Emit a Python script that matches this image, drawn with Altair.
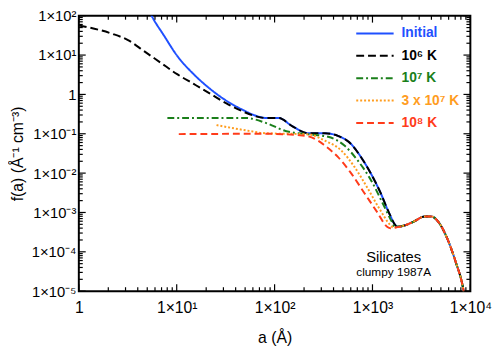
import altair as alt
import pandas as pd

# ---------------- data ----------------
SERIES = ["Initial", "10⁶ K", "10⁷ K", "3 x 10⁷ K", "10⁸ K"]
COLORS = ["#1f50ff", "#000000", "#1a7f1a", "#ff9d1f", "#ff3b1a"]
DASHES = [[1, 0], [8, 4], [7, 3, 2, 3], [2, 2], [7, 4]]

A_INITIAL = [5.17, 5.54, 7.43, 10.1, 14.9, 21.9, 32.2, 47.4, 64.4, 81.2,
             110, 151, 221, 326, 443, 604, 761, 959, 1208, 1465,
             1711, 1775, 2074, 2612, 3428, 3990, 4842, 5874, 7114, 8316, 8810]
F_INITIAL = [141, 100, 31.0, 9.6, 3.27, 1.39, 0.690, 0.404, 0.287, 0.252,
             0.252, 0.157, 0.103, 0.103, 0.0887, 0.055, 0.0258, 0.00995, 0.00318, 0.00102,
             4.76e-4, 4.33e-4, 4.6e-4, 5.8e-4, 7.9e-4, 7.9e-4, 5.25e-4, 2.03e-4, 5.37e-5, 1.42e-5, 6.6e-6]

A_1E6 = [1, 2.16, 3.18, 4.68, 6.87, 10.1, 14.9, 21.9, 32.2, 47.4, 64.4, 81.2,
         110, 151, 221, 326, 443, 604, 761, 959, 1208, 1465,
         1711, 1775, 2074, 2612, 3428, 3990, 4842, 5874, 7114, 8316, 8810]
F_1E6 = [56.5, 35.2, 24.0, 12.4, 6.37, 3.27, 1.85, 1.05, 0.592, 0.369, 0.277, 0.252,
         0.252, 0.157, 0.103, 0.103, 0.0887, 0.055, 0.0258, 0.00995, 0.00318, 0.00102,
         4.76e-4, 4.33e-4, 4.6e-4, 5.8e-4, 7.9e-4, 7.9e-4, 5.25e-4, 2.03e-4, 5.37e-5, 1.42e-5, 6.6e-6]

A_1E7 = [8.03, 51.1, 81.2, 129, 221, 352, 517, 703, 959, 1306, 1581, 1683,
         2074, 2612, 3428, 3990, 4842, 5874, 7114, 8316, 8810]
F_1E7 = [0.252, 0.252, 0.189, 0.118, 0.097, 0.0838, 0.0501, 0.0213, 0.00683, 0.00149, 5.75e-4, 4.38e-4,
         4.6e-4, 5.8e-4, 7.9e-4, 7.9e-4, 5.25e-4, 2.03e-4, 5.37e-5, 1.42e-5, 6.6e-6]

A_3E7 = [25.5, 51.1, 81.2, 221, 326, 479, 652, 887, 1208, 1524, 1644,
         2074, 2612, 3428, 3990, 4842, 5874, 7114, 8316, 8810]
F_3E7 = [0.166, 0.122, 0.103, 0.097, 0.0667, 0.0378, 0.0146, 0.00423, 0.00112, 4.76e-4, 4.13e-4,
         4.6e-4, 5.8e-4, 7.9e-4, 7.9e-4, 5.25e-4, 2.03e-4, 5.37e-5, 1.42e-5, 6.6e-6]

A_1E8 = [10.5, 81.2, 205, 279, 326, 443, 604, 822, 1117, 1409, 1524, 1846,
         2074, 2612, 3428, 3990, 4842, 5874, 7114, 8316, 8810]
F_1E8 = [0.098, 0.1, 0.0887, 0.0667, 0.0501, 0.0258, 0.00995, 0.00318, 0.00102, 4.33e-4, 3.95e-4, 4.3e-4,
         4.6e-4, 5.8e-4, 7.9e-4, 7.9e-4, 5.25e-4, 2.03e-4, 5.37e-5, 1.42e-5, 6.6e-6]

X_TICKS = [1, 10, 100, 1000, 10000]
X_LABELS = ["1", "1×10¹", "1×10²", "1×10³", "1×10⁴"]
Y_TICKS = [1e2, 1e1, 1, 1e-1, 1e-2, 1e-3, 1e-4, 1e-5]
Y_LABELS = ["1×10²", "1×10¹", "1", "1×10⁻¹", "1×10⁻²", "1×10⁻³", "1×10⁻⁴", "1×10⁻⁵"]
X_TITLE = "a (Å)"
Y_TITLE = "f(a) (Å⁻¹ cm⁻³)"
ANNOT = ["Silicates", "clumpy 1987A"]

FONT = "Liberation Sans"
W, H = 398, 280

# ---------------- table ----------------
rows = []
for name, A, F in zip(SERIES, [A_INITIAL, A_1E6, A_1E7, A_3E7, A_1E8],
                      [F_INITIAL, F_1E6, F_1E7, F_3E7, F_1E8]):
    for i, (a, f) in enumerate(zip(A, F)):
        rows.append({"series": name, "a": a, "f": f, "i": i})
df = pd.DataFrame(rows)

X_MINOR = [k * 10 ** d for d in range(0, 4) for k in range(2, 10)]
Y_MINOR = [k * 10.0 ** d for d in range(-5, 2) for k in range(2, 10)]


def label_expr(ticks, labels):
    import math
    expr = "''"
    for t, l in zip(ticks, labels):
        e = round(math.log10(t))
        expr = f"round(log(datum.value)/LN10) == {e} ? '{l}' : " + expr
    return expr


xs = alt.Scale(type="log", domain=[1, 1e4], nice=False)
ys = alt.Scale(type="log", domain=[1e-5, 1e2], nice=False)
color_scale = alt.Scale(domain=SERIES, range=COLORS)
dash_scale = alt.Scale(domain=SERIES, range=DASHES)

lines = alt.Chart(df).mark_line(clip=True, strokeWidth=2, interpolate="monotone").encode(
    x=alt.X("a:Q", scale=xs, axis=alt.Axis(
        orient="bottom", values=X_TICKS, labelExpr=label_expr(X_TICKS, X_LABELS),
        ticks=False, domain=False, grid=False, labelFlush=False, labelOverlap=False,
        labelFont=FONT, labelFontSize=16, labelColor="black", labelPadding=9,
        title=X_TITLE, titleFont=FONT, titleFontSize=16, titleFontWeight="normal",
        titleColor="black", titlePadding=14)),
    y=alt.Y("f:Q", scale=ys, axis=alt.Axis(
        orient="left", values=Y_TICKS, labelExpr=label_expr(Y_TICKS, Y_LABELS),
        ticks=False, domain=False, grid=False, labelFlush=False, labelOverlap=False,
        labelFont=FONT, labelFontSize=15, labelColor="black", labelPadding=3,
        title=Y_TITLE, titleFont=FONT, titleFontSize=16, titleFontWeight="normal",
        titleColor="black", titlePadding=6)),
    color=alt.Color("series:N", scale=color_scale, legend=None),
    strokeDash=alt.StrokeDash("series:N", scale=dash_scale, legend=None),
    order="i:Q",
)

major_x = pd.DataFrame({"v": X_TICKS})
minor_x = pd.DataFrame({"v": X_MINOR})
major_y = pd.DataFrame({"v": Y_TICKS})
minor_y = pd.DataFrame({"v": Y_MINOR})


def xticks(data, y0, y1):
    return alt.Chart(data).mark_rule(color="black", strokeWidth=1.2).encode(
        x=alt.X("v:Q", scale=xs, axis=None), y=alt.value(y0), y2=alt.value(y1))


def yticks(data, x0, x1):
    return alt.Chart(data).mark_rule(color="black", strokeWidth=1.2).encode(
        y=alt.Y("v:Q", scale=ys, axis=None), x=alt.value(x0), x2=alt.value(x1))


ticks = [
    xticks(major_x, H, H - 7), xticks(minor_x, H, H - 4),
    xticks(major_x, 0, 7), xticks(minor_x, 0, 4),
    yticks(major_y, 0, 7), yticks(minor_y, 0, 4),
    yticks(major_y, W, W - 7), yticks(minor_y, W, W - 4),
]

# ---------------- legend (inside the plot, top right) ----------------
leg_df = pd.DataFrame({"series": SERIES})
leg_y = alt.Y("series:N", scale=alt.Scale(domain=SERIES, range=[18, 109], type="point", padding=0),
              axis=None)
leg_lines = alt.Chart(leg_df).mark_rule(strokeWidth=2).encode(
    y=leg_y, x=alt.value(282), x2=alt.value(320),
    color=alt.Color("series:N", scale=color_scale, legend=None),
    strokeDash=alt.StrokeDash("series:N", scale=dash_scale, legend=None),
)
leg_text = alt.Chart(leg_df).mark_text(
    font=FONT, fontSize=14, fontWeight="bold", align="left", baseline="middle").encode(
    y=leg_y, x=alt.value(328), text="series:N",
    color=alt.Color("series:N", scale=color_scale, legend=None),
)

annot_df = pd.DataFrame({"t": ANNOT})
txt1 = alt.Chart(annot_df).transform_filter(alt.datum.t == ANNOT[0]).mark_text(
    font=FONT, fontSize=15, color="black", align="center", baseline="alphabetic").encode(
    x=alt.value(320), y=alt.value(250), text="t:N")
txt2 = alt.Chart(annot_df).transform_filter(alt.datum.t == ANNOT[1]).mark_text(
    font=FONT, fontSize=12, color="black", align="center", baseline="alphabetic").encode(
    x=alt.value(320), y=alt.value(265), text="t:N")

chart = alt.layer(lines, *ticks, leg_lines, leg_text, txt1, txt2).resolve_axis(
    x="independent", y="independent"
).resolve_scale(y="independent").properties(
    width=W, height=H,
    autosize=alt.AutoSizeParams(type="none"),
    padding={"left": 72, "top": 5, "right": 22, "bottom": 60},
).configure_view(stroke="black", strokeWidth=2)

chart.save("out.html", embed_options={"renderer": "svg", "actions": False})
